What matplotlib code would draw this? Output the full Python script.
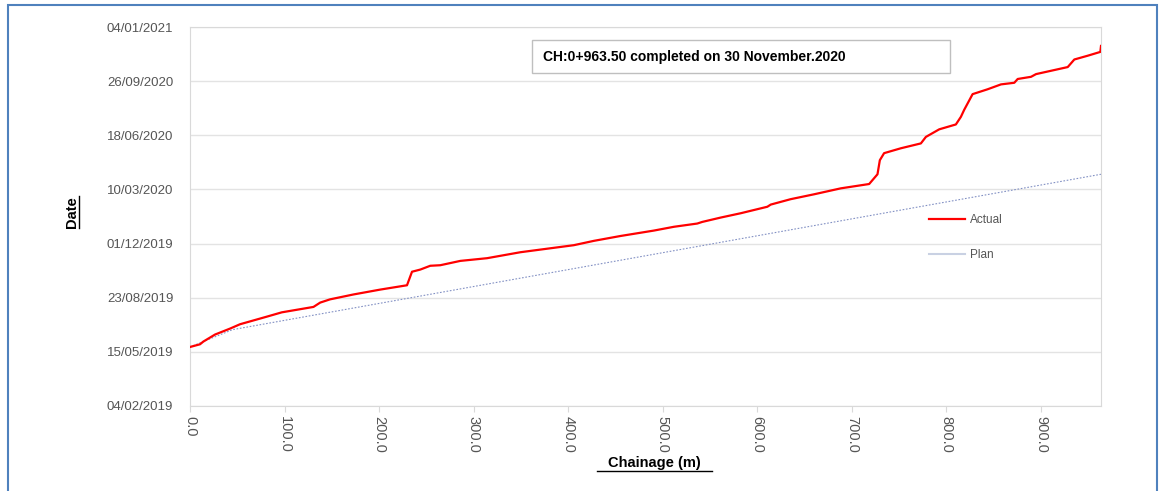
import numpy as np
import matplotlib
matplotlib.use("Agg")
import matplotlib.pyplot as plt
import matplotlib.dates as mdates
from matplotlib.patches import Rectangle
from matplotlib.ticker import FormatStrFormatter, FixedLocator

plt.rcParams['font.family'] = ['Liberation Sans', 'DejaVu Sans']

# actual progress: chainage (m) vs date reached
actual_ch = [0, 10.6, 14.1, 26.5, 42.4, 52.9, 81.2, 97.1, 130.6, 137.7, 148.2, 172.9,
             201.2, 229.5, 234.8, 243.6, 254.1, 264.7, 285.9, 314.2, 349.4, 405.9,
             427.1, 455.3, 490.6, 511.8, 536.5, 541.8, 561.2, 582.4, 610.6, 614.2,
             635.3, 660.0, 688.3, 718.3, 727.1, 729.6, 734.1, 751.8, 773.0, 778.3,
             792.4, 810.0, 815.3, 818.8, 827.7, 843.6, 857.7, 871.8, 875.4, 889.5,
             894.8, 928.3, 935.3, 949.5, 962.8, 963.5]
actual_dt = ['2019-05-24', '2019-05-29', '2019-06-03', '2019-06-16', '2019-06-27', '2019-07-05',
             '2019-07-19', '2019-07-27', '2019-08-06', '2019-08-14', '2019-08-20', '2019-08-29',
             '2019-09-07', '2019-09-15', '2019-10-10', '2019-10-14', '2019-10-21', '2019-10-22',
             '2019-10-30', '2019-11-04', '2019-11-15', '2019-11-28', '2019-12-06', '2019-12-15',
             '2019-12-25', '2020-01-01', '2020-01-07', '2020-01-10', '2020-01-18', '2020-01-26',
             '2020-02-07', '2020-02-11', '2020-02-21', '2020-03-01', '2020-03-12', '2020-03-20',
             '2020-04-07', '2020-05-03', '2020-05-16', '2020-05-25', '2020-06-03', '2020-06-15',
             '2020-06-29', '2020-07-08', '2020-07-22', '2020-08-04', '2020-09-02', '2020-09-11',
             '2020-09-20', '2020-09-23', '2020-09-30', '2020-10-04', '2020-10-09', '2020-10-22',
             '2020-11-05', '2020-11-12', '2020-11-19', '2020-11-30']

plan_ch = [0, 45.0, 963.5]
plan_dt = ['2019-05-24', '2019-06-25', '2020-04-07']

ytick_dates = ['2019-02-04', '2019-05-15', '2019-08-23', '2019-12-01',
               '2020-03-10', '2020-06-18', '2020-09-26', '2021-01-04']
xticks = [0, 100, 200, 300, 400, 500, 600, 700, 800, 900]

note = 'CH:0+963.50 completed on 30 November.2020'

fig = plt.figure(figsize=(11.6, 4.91), dpi=100)
ax = fig.add_axes([190/1160, 1-406/491, (1101-190)/1160, (406-27)/491])

a_d = mdates.date2num(np.array(actual_dt, dtype='datetime64[D]'))
p_d = mdates.date2num(np.array(plan_dt, dtype='datetime64[D]'))
yt = mdates.date2num(np.array(ytick_dates, dtype='datetime64[D]'))

ax.plot(actual_ch, a_d, color='#ff0000', lw=1.6, label='Actual', zorder=3)
ax.plot(plan_ch, p_d, color='#8391c4', lw=0.8, ls=(0, (1.5, 1.5)), zorder=2)

ax.set_xlim(0, 963.5)
ax.set_ylim(yt[0], yt[-1])
ax.yaxis.set_major_locator(FixedLocator(yt))
ax.yaxis.set_major_formatter(mdates.DateFormatter('%d/%m/%Y'))
ax.set_xticks(xticks)
ax.xaxis.set_major_formatter(FormatStrFormatter('%.1f'))
ax.grid(axis='y', color='#e3e3e3', lw=1)
ax.set_axisbelow(True)
for s in ax.spines.values():
    s.set_color('#d9d9d9')
ax.tick_params(axis='y', length=0, labelsize=9.5, colors='#555555', pad=12)
ax.tick_params(axis='x', length=4, color='#d9d9d9', labelsize=10.5, labelcolor='#555555',
               labelrotation=-90, pad=3)

# legend
ax.plot([], [], color='#c9d1e3', lw=1.5, label='Plan')
h, l = ax.get_legend_handles_labels()
ax.legend([h[0], h[1]], ['Actual', 'Plan'], loc='upper left', bbox_to_anchor=(0.8, 0.535),
          frameon=False, fontsize=8.5, labelcolor='#555555', handlelength=3.0,
          labelspacing=2.0, handletextpad=0.4)

# annotation box
fig.text(543/1160, 1-57/491, note, fontsize=10, fontweight='bold', va='center', ha='left')
fig.patches.append(Rectangle((532/1160, 1-73/491), (950-532)/1160, 33/491,
                             transform=fig.transFigure, fill=False, ec='#bfbfbf', lw=1))

# axis labels (bold, underlined)
fig.text(654/1160, 1-463/491, 'Chainage (m)', fontsize=10.5, fontweight='bold',
         ha='center', va='center')
fig.add_artist(plt.Line2D([597/1160, 712/1160], [1-471/491, 1-471/491],
                          color='black', lw=1, transform=fig.transFigure))
fig.text(72/1160, 1-212/491, 'Date', fontsize=10.5, fontweight='bold', rotation=90,
         ha='center', va='center')
fig.add_artist(plt.Line2D([79/1160, 79/1160], [1-196/491, 1-228/491],
                          color='black', lw=1, transform=fig.transFigure))

# outer blue frame
fig.patches.append(Rectangle((8/1160, -0.05), (1157-8)/1160, 1-5/491+0.05,
                             transform=fig.transFigure, fill=False, ec='#4f81bd', lw=1.5))

fig.savefig('out.png', dpi=100)
